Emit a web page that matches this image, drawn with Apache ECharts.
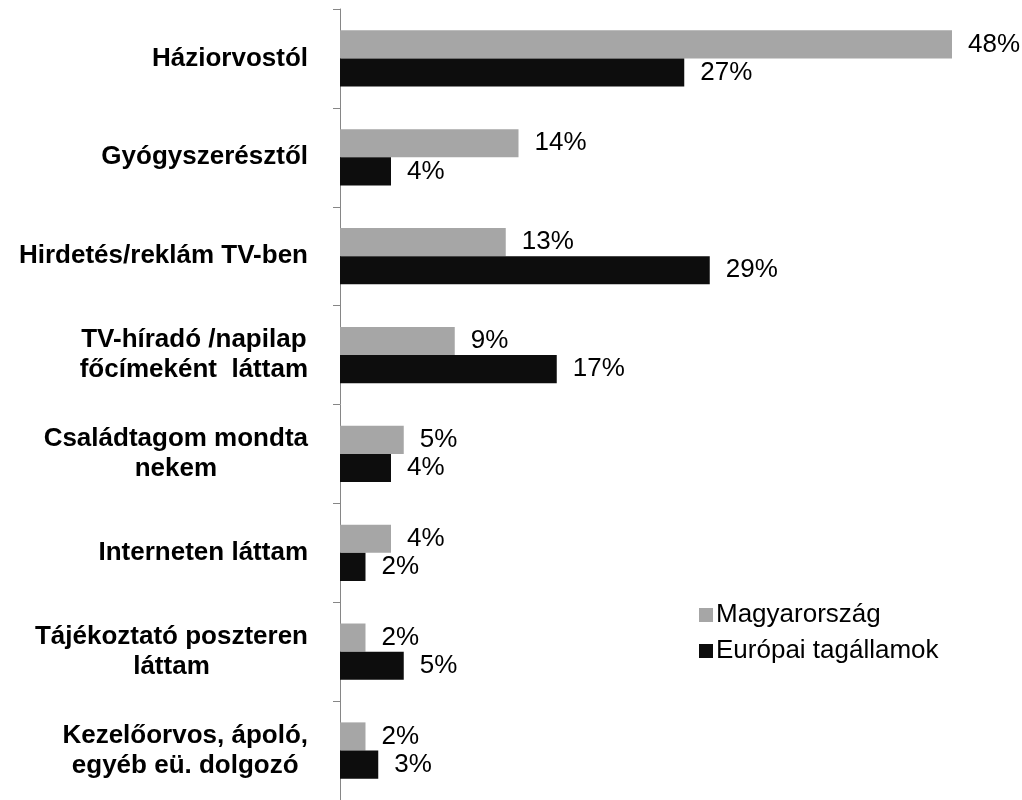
<!DOCTYPE html>
<html><head><meta charset="utf-8">
<script src="https://cdn.jsdelivr.net/npm/echarts@6/dist/echarts.min.js"></script>
<style>html,body{margin:0;padding:0;background:#fff}#c{width:1022px;height:800px}</style>
</head><body><div id="c"></div>
<script>
const categories = [
  'Háziorvostól',
  'Gyógyszerésztől',
  'Hirdetés/reklám TV-ben',
  'TV-híradó /napilap\nfőcímeként  láttam',
  'Családtagom mondta\nnekem',
  'Interneten láttam',
  'Tájékoztató poszteren\nláttam',
  'Kezelőorvos, ápoló,\negyéb eü. dolgozó'
];
const seriesNames = ['Magyarország', 'Európai tagállamok'];
const hungary = [48, 14, 13, 9, 5, 4, 2, 2];
const euStates = [27, 4, 29, 17, 4, 2, 5, 3];

const FONT = '"Liberation Sans", Arial, sans-serif';
const chart = echarts.init(document.getElementById('c'), null, {renderer: 'canvas'});
const labelCfg = {
  show: true, position: 'right', distance: 16,
  formatter: p => p.value + '%',
  color: '#000', fontFamily: FONT, fontSize: 26
};
chart.setOption({
  animation: false,
  backgroundColor: '#fff',
  grid: {left: 340, top: 9, height: 792, width: 637.5, containLabel: false},
  xAxis: {type: 'value', min: 0, max: 50, show: false},
  yAxis: {
    type: 'category', data: categories, inverse: true,
    axisLine: {show: true, lineStyle: {color: '#868686', width: 1}},
    axisTick: {show: true, length: 7, lineStyle: {color: '#868686'}},
    axisLabel: {
      margin: 32, color: '#000', fontFamily: FONT, fontSize: 26, fontWeight: 'bold',
      lineHeight: 30,
      formatter: v => v.split('\n').map(s => '{c|' + s + '}').join('\n'),
      rich: {c: {align: 'center', fontFamily: FONT, fontSize: 26, fontWeight: 'bold', color: '#000', lineHeight: 30}}
    },
    splitLine: {show: false}
  },
  legend: {
    orient: 'vertical', left: 694, top: 597,
    itemWidth: 14, itemHeight: 14, itemGap: 10,
    icon: 'rect',
    textStyle: {color: '#000', fontFamily: FONT, fontSize: 26, padding: [0, 0, 0, -2]},
    data: seriesNames
  },
  series: [
    {name: seriesNames[0], type: 'bar', data: hungary, barGap: '0%', barCategoryGap: '43%',
     itemStyle: {color: '#a6a6a6'}, label: labelCfg},
    {name: seriesNames[1], type: 'bar', data: euStates, barGap: '0%', barCategoryGap: '43%',
     itemStyle: {color: '#0d0d0d'}, label: labelCfg}
  ]
});
</script></body></html>
